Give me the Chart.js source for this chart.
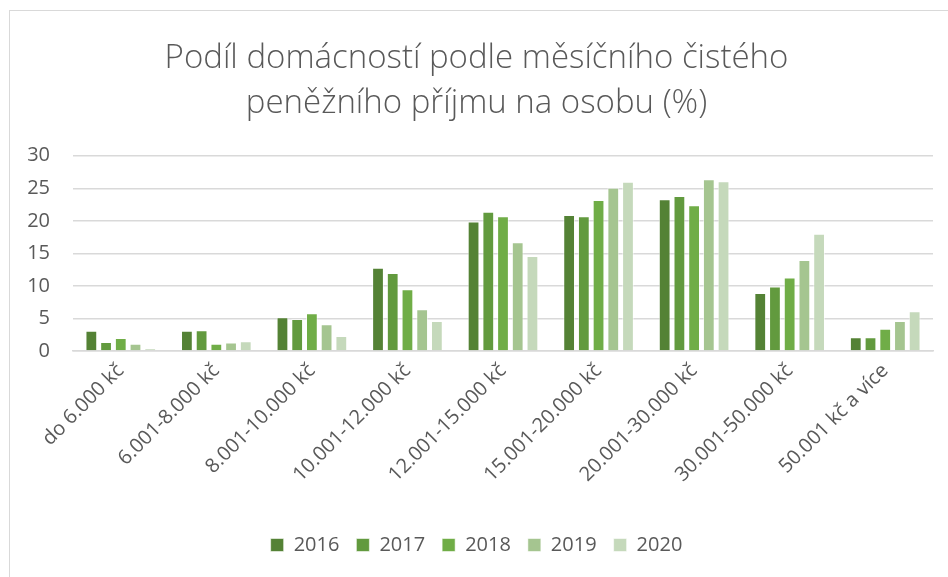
<!DOCTYPE html>
<html>
<head>
<meta charset="utf-8">
<script src="https://cdn.jsdelivr.net/npm/chart.js@4"></script>
<style>
  html, body { margin: 0; padding: 0; background: #fff; overflow: hidden; }
  #frame {
    position: absolute; left: 9px; top: 10px; width: 960px; height: 600px;
    border: 1px solid #d9d9d9; box-sizing: border-box;
  }
  #wrap { position: absolute; left: 0; top: 0; width: 948px; height: 577px; }
</style>
</head>
<body>
<div id="frame"></div>
<div id="wrap"><canvas id="chart" width="948" height="577"></canvas></div>
<script>
// kategorie příjmu
const categories = [
  "do 6.000 kč", "6.001-8.000 kč", "8.001-10.000 kč", "10.001-12.000 kč",
  "12.001-15.000 kč", "15.001-20.000 kč", "20.001-30.000 kč",
  "30.001-50.000 kč", "50.001 kč a více"
];
const years = ["2016", "2017", "2018", "2019", "2020"];

// hodnoty (%)
const values2016 = [3.1, 3.1, 5.2, 12.8, 19.9, 20.9, 23.3, 8.9, 2.1];
const values2017 = [1.4, 3.2, 4.9, 12.0, 21.4, 20.7, 23.8, 9.9, 2.1];
const values2018 = [2.0, 1.1, 5.8, 9.5, 20.7, 23.2, 22.4, 11.3, 3.4];
const values2019 = [1.1, 1.3, 4.1, 6.4, 16.7, 25.1, 26.4, 14.0, 4.6];
const values2020 = [0.4, 1.5, 2.3, 4.6, 14.6, 26.0, 26.1, 18.0, 6.1];

const yTicks = [0, 5, 10, 15, 20, 25, 30];

const seriesValues = [values2016, values2017, values2018, values2019, values2020];
const seriesColors = ["#548235", "#629A3E", "#70AD47", "#A5C590", "#C5D9BB"];

const FONT = "'Open Sans', sans-serif";
const TEXT = "#595959";

const datasets = years.map((y, i) => ({
  label: y,
  data: seriesValues[i],
  backgroundColor: seriesColors[i],
  borderColor: "rgba(255,255,255,0.55)",
  borderWidth: 1,
  categoryPercentage: 0.77,
  barPercentage: 0.8,
}));

new Chart(document.getElementById("chart"), {
  type: "bar",
  data: { labels: categories, datasets: datasets },
  options: {
    responsive: false,
    animation: false,
    layout: { padding: { top: 10, left: 20, right: 15, bottom: 12 } },
    plugins: {
      title: {
        display: true,
        text: ["Podíl domácností podle měsíčního čistého", "peněžního příjmu na osobu (%)"],
        color: TEXT,
        font: { family: FONT, size: 33, weight: "300", lineHeight: 1.36 },
        padding: { top: 26, bottom: 30 },
      },
      legend: {
        position: "bottom",
        labels: {
          color: TEXT,
          font: { family: FONT, size: 20 },
          boxWidth: 13,
          boxHeight: 13,
          padding: 17,
        },
      },
      tooltip: { enabled: false },
    },
    scales: {
      x: {
        afterFit: (axis) => { axis.height = 167; },
        grid: { display: false, drawTicks: false },
        border: { color: "#d9d9d9", width: 1.5 },
        ticks: {
          color: TEXT,
          font: { family: FONT, size: 20 },
          minRotation: 45,
          maxRotation: 45,
          padding: 8,
          autoSkip: false,
        },
      },
      y: {
        min: 0,
        max: 30,
        afterBuildTicks: (axis) => { axis.ticks = yTicks.map(v => ({ value: v })); },
        afterFit: (axis) => { axis.width = 53; },
        grid: { color: "#d9d9d9", lineWidth: 1.5, drawTicks: false },
        border: { display: false },
        ticks: {
          color: TEXT,
          font: { family: FONT, size: 20 },
          padding: 23,
        },
      },
    },
  },
});
</script>
</body>
</html>
